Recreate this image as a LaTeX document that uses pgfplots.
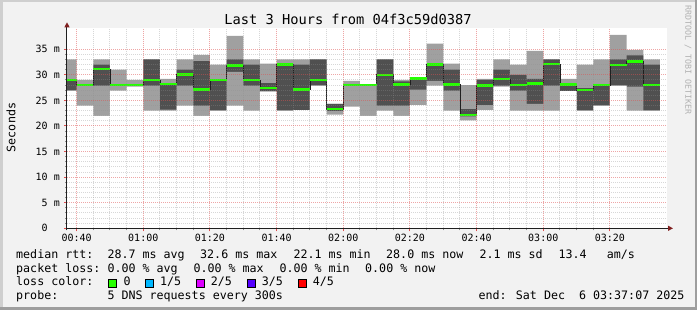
\documentclass[border=0pt]{standalone}
\usepackage{fontspec}
\setmainfont{DejaVu Sans Mono}
\setmonofont{DejaVu Sans Mono}
\usepackage{pgfplots}
\pgfplotsset{compat=1.18}
\usepackage{pgfplotstable}
\usetikzlibrary{arrows.meta}
\definecolor{bgc}{HTML}{F2F2F2}
\definecolor{shadea}{HTML}{CFCFCF}
\definecolor{shadeb}{HTML}{9E9E9E}
\definecolor{gridc}{HTML}{8F8F8F}
\definecolor{mgridc}{HTML}{DE4F4F}
\definecolor{arrowc}{HTML}{801F1F}
\definecolor{axisc}{HTML}{1F1F1F}
\definecolor{smokeA}{HTML}{A0A0A0}
\definecolor{smokeB}{HTML}{505050}
\definecolor{medc}{HTML}{202020}
\definecolor{loss0}{HTML}{26FF00}
\definecolor{loss1}{HTML}{00B8FF}
\definecolor{loss2}{HTML}{DD00FF}
\definecolor{loss3}{HTML}{5500FF}
\definecolor{loss4}{HTML}{FF0000}
\newcommand{\lgd}{\fontsize{11.66}{14}\selectfont}
\pgfplotstableread{
t mx p4 md p2 mn
37.117 33.0 29.0 29.0 26.9 26.9
40 29.0 28.1 28.0 27.9 24.0
45 33.0 32.0 31.1 27.9 22.0
50 31.0 28.1 28.0 27.9 26.9
55 29.0 28.1 28.0 27.9 27.7
60 33.0 33.0 29.0 27.9 23.0
65 29.2 28.2 28.2 23.2 23.0
70 33.0 31.0 30.1 27.9 24.0
75 33.9 32.7 27.1 24.0 22.0
80 32.0 29.0 29.0 23.0 23.0
85 37.6 33.0 31.8 30.6 24.0
90 33.0 32.0 29.0 27.9 23.0
95 32.2 28.4 27.4 26.8 26.7
100 33.0 32.0 32.0 23.0 23.0
105 33.0 32.0 27.1 23.1 23.1
110 33.0 33.0 29.0 27.9 27.9
115 24.3 24.3 23.3 22.9 22.2
120 28.8 28.1 28.0 27.9 23.8
125 28.2 28.1 28.0 27.9 22.0
130 33.0 33.0 30.0 24.0 23.0
135 29.0 28.7 28.1 24.0 22.0
140 29.4 29.3 29.3 27.1 24.1
145 36.1 32.0 32.0 28.8 27.9
150 32.2 31.0 28.1 26.9 23.0
155 28.0 23.3 22.1 21.9 21.1
160 29.2 29.0 27.9 24.1 23.1
165 33.0 31.0 29.2 27.9 27.7
170 32.0 30.0 28.0 26.9 23.0
175 34.7 29.2 28.3 24.3 23.0
180 33.0 33.0 32.1 27.9 23.0
185 29.2 28.2 28.1 26.8 26.8
190 32.0 27.4 27.0 23.0 23.0
195 33.0 28.1 28.0 24.0 24.0
200 37.8 33.0 31.9 27.9 27.9
205 34.9 33.8 32.6 27.7 23.0
210 33.0 32.0 28.0 23.0 23.0
215 33.0 32.0 28.0 23.0 23.0
}\smoke
\begin{document}
\begin{tikzpicture}[x=1pt,y=1pt]
\fill[bgc] (0,0) rectangle (697,310);
\fill[shadea] (0,307.5) rectangle (697,310);
\fill[shadea] (0,0) rectangle (2.5,310);
\fill[shadeb] (0,0) rectangle (697,2.5);
\fill[shadeb] (694.5,0) rectangle (697,310);
\begin{axis}[
  at={(67pt,81.7pt)}, anchor=south west,
  scale only axis, width=600pt, height=200pt,
  xmin=37.117, xmax=217.117, ymin=0, ymax=39.1,
  axis background/.style={fill=white},
  axis x line=bottom, axis y line=left,
  axis line style={color=axisc, line width=1pt},
  x axis line style={-{Triangle[length=5pt,width=5pt,color=arrowc]}, shorten >=-6pt, shorten <=-1pt},
  y axis line style={-{Triangle[length=5pt,width=5pt,color=arrowc]}, shorten >=-6pt, shorten <=-2pt},
  axis on top,
  xtick={40,60,80,100,120,140,160,180,200},
  xticklabels={00:40,01:00,01:20,01:40,02:00,02:20,02:40,03:00,03:20},
  ytick={0,5,10,15,20,25,30,35},
  yticklabels={0\hphantom{\ m},5 m,10 m,15 m,20 m,25 m,30 m,35 m},
  minor x tick num=3, minor y tick num=4,
  grid=both,
  major grid style={draw=mgridc, draw opacity=0.5, line width=1pt, dash pattern=on 1pt off 1pt},
  minor grid style={draw=gridc, draw opacity=0.35, line width=1pt, dash pattern=on 1pt off 1pt},
  tick align=outside,
  major tick length=3pt, minor tick length=2pt,
  major tick style={draw=mgridc, line width=1pt},
  minor tick style={draw=gridc, line width=1pt},
  /pgf/number format/assume math mode=true,
  xticklabel style={font=\fontsize{10}{12}\selectfont, inner sep=0pt, anchor=north, yshift=-3pt},
  yticklabel style={font=\fontsize{10}{12}\selectfont, inner sep=0pt, anchor=east, xshift=-4pt},
]
\addplot[const plot, draw=none, fill=smokeA] table[x=t,y=mx]{\smoke} \closedcycle;
\addplot[const plot, draw=none, fill=smokeB] table[x=t,y=p4]{\smoke} \closedcycle;
\addplot[const plot, draw=none, fill=smokeA] table[x=t,y=p2]{\smoke} \closedcycle;
\addplot[const plot, draw=none, fill=white] table[x=t,y=mn]{\smoke} \closedcycle;
\addplot[const plot, color=medc, line width=0.8pt] table[x=t,y=md]{\smoke};
\addplot[jump mark left, color=loss0, line width=2.4pt] table[x=t,y=md]{\smoke};
\end{axis}
\node[anchor=base, inner sep=0pt, font=\fontsize{13.7}{16}\selectfont] at (348,285.7) {Last 3 Hours from 04f3c59d0387};
\node[rotate=90, anchor=base, inner sep=0pt, font=\lgd] at (15.3,182.5) {Seconds};
\node[rotate=-90, inner sep=0pt, font=\fontsize{8.3}{10}\selectfont, text=black!30] at (688,250) {RRDTOOL / TOBI OETIKER};
\begin{scope}[every node/.style={anchor=base west, inner sep=0pt, font=\lgd}]
\node at (16,51.7) {median rtt:};
\node at (107.3,51.7) {28.7 ms avg};
\node at (200,51.7) {32.6 ms max};
\node at (293.3,51.7) {22.1 ms min};
\node at (386,51.7) {28.0 ms now};
\node at (479.3,51.7) {2.1 ms sd};
\node at (558.3,51.7) {13.4};
\node at (606.7,51.7) {am/s};
\node at (16,37.8) {packet loss:};
\node at (107.3,37.8) {0.00 \% avg};
\node at (193.3,37.8) {0.00 \% max};
\node at (279.3,37.8) {0.00 \% min};
\node at (365,37.8) {0.00 \% now};
\node at (16,24) {loss color:};
\node at (123.3,24) {0};
\node at (160,24) {1/5};
\node at (210.7,24) {2/5};
\node at (261.7,24) {3/5};
\node at (312.7,24) {4/5};
\node at (16,10.5) {probe:};
\node at (107.3,10.5) {5 DNS requests every 300s};
\node at (478.3,10.5) {end: Sat Dec~~6 03:37:07 2025};
\end{scope}
\filldraw[fill=loss0, draw=black, line width=0.8pt] (108.3,23) rectangle ++(8,8);
\filldraw[fill=loss1, draw=black, line width=0.8pt] (145.7,23) rectangle ++(8,8);
\filldraw[fill=loss2, draw=black, line width=0.8pt] (196.7,23) rectangle ++(8,8);
\filldraw[fill=loss3, draw=black, line width=0.8pt] (247.3,23) rectangle ++(8,8);
\filldraw[fill=loss4, draw=black, line width=0.8pt] (298.3,23) rectangle ++(8,8);
\pgfresetboundingbox
\path (0,0) rectangle (697,310);
\end{tikzpicture}
\end{document}
